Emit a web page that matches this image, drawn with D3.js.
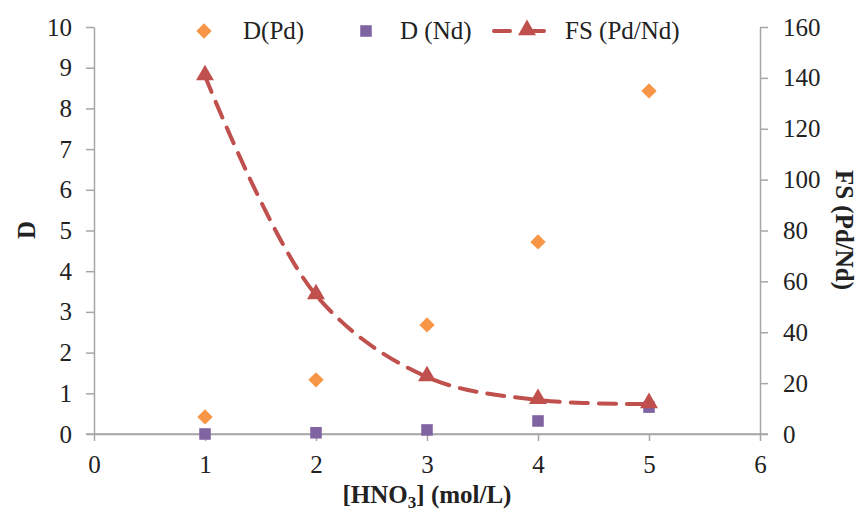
<!DOCTYPE html>
<html><head><meta charset="utf-8">
<script src="https://cdnjs.cloudflare.com/ajax/libs/d3/7.8.5/d3.min.js"></script>
<style>body{margin:0;background:#fff}svg{display:block}</style>
</head><body>
<svg id="c" width="857" height="514"></svg>
<script>
const hno3 = [1, 2, 3, 4, 5];
const dPd = [0.42, 1.33, 2.68, 4.72, 8.43];
const dNd = [0.0, 0.03, 0.1, 0.32, 0.66];
const fs = [140.7, 54.6, 22.4, 13.4, 11.8];
const xTicks = [0, 1, 2, 3, 4, 5, 6];
const yTicks = [0, 1, 2, 3, 4, 5, 6, 7, 8, 9, 10];
const y2Ticks = [0, 20, 40, 60, 80, 100, 120, 140, 160];

const svg = d3.select("#c");
const L = 94, R = 760, T = 27, B = 434;
const x = d3.scaleLinear().domain([0, 6]).range([L, R]);
const y = d3.scaleLinear().domain([0, 10]).range([B, T]);
const y2 = d3.scaleLinear().domain([0, 160]).range([B, T]);
const axisCol = "#a6a6a6";
const font = "'Liberation Serif', 'Times New Roman', 'DejaVu Serif', serif";
const FS = 25;
const cOr = "#F79646", cPu = "#8064A2", cRe = "#C0504D";

function styleAxis(g) {
  g.selectAll("path,line").attr("stroke", axisCol).attr("stroke-width", 1.5);
  g.selectAll("text").attr("font-family", font).attr("font-size", FS).attr("fill", "#222");
}
const gx = svg.append("g").attr("transform", `translate(0,${B})`)
  .call(d3.axisBottom(x).tickValues(xTicks).tickFormat(d3.format("d")).tickSizeOuter(0).tickSizeInner(7).tickPadding(14));
styleAxis(gx);
const gy = svg.append("g").attr("transform", `translate(${L},0)`)
  .call(d3.axisLeft(y).tickValues(yTicks).tickFormat(d3.format("d")).tickSizeOuter(0).tickSizeInner(8).tickPadding(14));
styleAxis(gy);
const gy2 = svg.append("g").attr("transform", `translate(${R},0)`)
  .call(d3.axisRight(y2).tickValues(y2Ticks).tickFormat(d3.format("d")).tickSizeOuter(0).tickSizeInner(8).tickPadding(15));
styleAxis(gy2);
svg.append("line").attr("x1", L - 8).attr("x2", R + 8).attr("y1", B).attr("y2", B).attr("stroke", axisCol).attr("stroke-width", 1.5);

// axis titles
svg.append("text").attr("x", 427).attr("y", 503).attr("text-anchor", "middle")
  .attr("font-family", font).attr("font-size", FS).attr("font-weight", "bold").attr("fill", "#222")
  .html('[HNO<tspan dy="5" font-size="17">3</tspan><tspan dy="-5">] (mol/L)</tspan>');
svg.append("text").attr("transform", `translate(35,230) rotate(-90)`).attr("text-anchor", "middle")
  .attr("font-family", font).attr("font-size", FS).attr("font-weight", "bold").attr("fill", "#222").text("D");
svg.append("text").attr("transform", `translate(836,230) rotate(90)`).attr("text-anchor", "middle")
  .attr("font-family", font).attr("font-size", FS).attr("font-weight", "bold").attr("fill", "#222").text("FS (Pd/Nd)");

// FS line
const line = d3.line().x((d, i) => x(hno3[i])).y(d => y2(d)).curve(d3.curveCatmullRom.alpha(0.5));
svg.append("path").datum(fs).attr("d", line).attr("fill", "none").attr("stroke", cRe)
  .attr("stroke-width", 4).attr("stroke-dasharray", "17,11").attr("stroke-linecap", "round");

const diamond = d3.symbol().type(d3.symbolDiamond2).size(150);
const square = d3.symbol().type(d3.symbolSquare2).size(170);
const tri = d3.symbol().type(d3.symbolTriangle).size(140);

svg.append("g").selectAll("path").data(dNd).join("path")
  .attr("transform", (d, i) => `translate(${x(hno3[i])},${y(d)})`).attr("d", square).attr("fill", cPu);
svg.append("g").selectAll("path").data(dPd).join("path")
  .attr("transform", (d, i) => `translate(${x(hno3[i])},${y(d)})`).attr("d", diamond).attr("fill", cOr);
svg.append("g").selectAll("path").data(fs).join("path")
  .attr("transform", (d, i) => `translate(${x(hno3[i])},${y2(d) - 1})`).attr("d", tri).attr("fill", cRe);

// legend
const lg = svg.append("g");
const ly = 31;
lg.append("path").attr("transform", `translate(204,${ly})`).attr("d", diamond).attr("fill", cOr);
lg.append("text").attr("x", 243).attr("y", ly + 8).text("D(Pd)");
lg.append("path").attr("transform", `translate(366,${ly})`).attr("d", square).attr("fill", cPu);
lg.append("text").attr("x", 400).attr("y", ly + 8).text("D (Nd)");
lg.append("line").attr("x1", 494).attr("x2", 510).attr("y1", ly).attr("y2", ly).attr("stroke", cRe).attr("stroke-width", 4).attr("stroke-linecap", "round");
lg.append("line").attr("x1", 530).attr("x2", 544).attr("y1", ly).attr("y2", ly).attr("stroke", cRe).attr("stroke-width", 4).attr("stroke-linecap", "round");
lg.append("path").attr("transform", `translate(527,${ly - 1})`).attr("d", tri).attr("fill", cRe);
lg.append("text").attr("x", 565).attr("y", ly + 8).text("FS (Pd/Nd)");
lg.selectAll("text").attr("font-family", font).attr("font-size", FS).attr("fill", "#222");
</script>
</body></html>
